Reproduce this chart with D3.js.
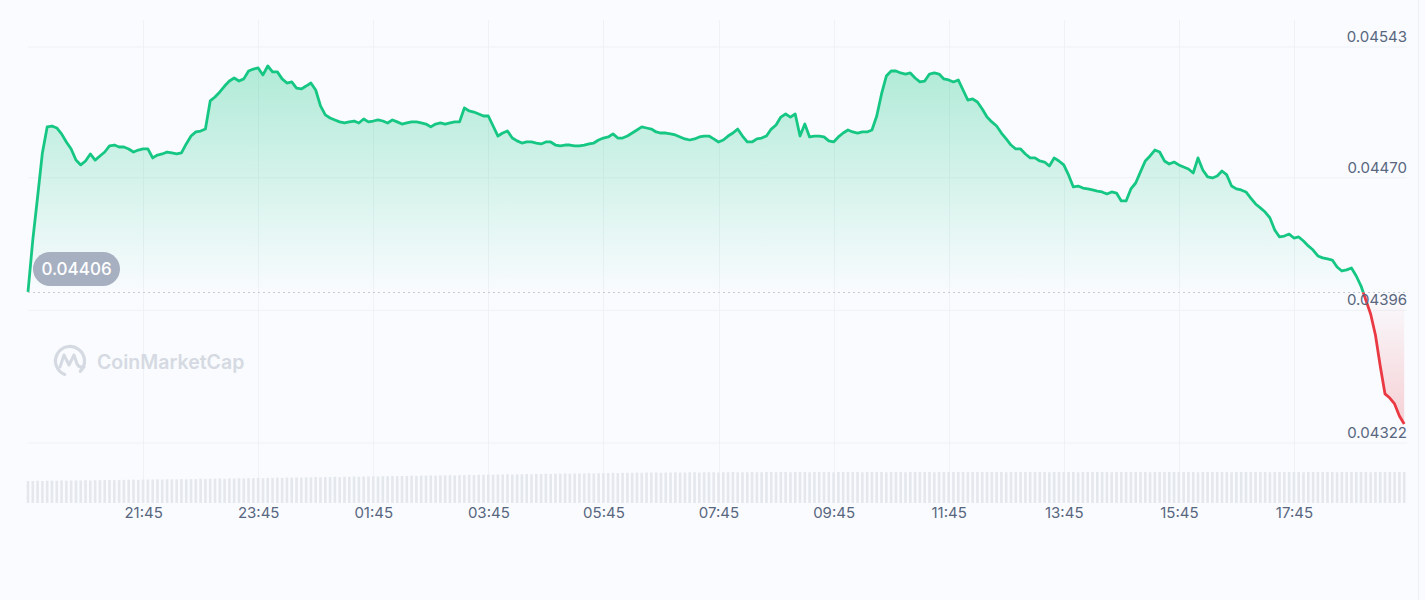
<!DOCTYPE html>
<html><head><meta charset="utf-8">
<script src="https://cdn.jsdelivr.net/npm/d3@7"></script>
<style>
html,body{margin:0;padding:0;background:#f9fbfe;}
svg{display:block;font-family:Inter,"Noto Sans",sans-serif;}
</style></head><body>
<svg id="chart" width="1425" height="600"></svg>
<script>
// ---------------- data ----------------
const startTime = "2024-01-01T19:45:00";
const intervalMinutes = 5;
const openPrice = 0.04406;
const prices = [
0.044063,0.044353,0.044593,0.044839,0.044984,0.044989,0.044978,0.044945,0.044900,0.044861,
0.044799,0.044772,0.044794,0.044833,0.044799,0.044822,0.044844,0.044878,0.044883,0.044872,
0.044872,0.044861,0.044844,0.044855,0.044861,0.044861,0.044811,0.044827,0.044833,0.044844,
0.044839,0.044833,0.044839,0.044889,0.044933,0.044956,0.044961,0.044972,0.045129,0.045151,
0.045179,0.045212,0.045240,0.045257,0.045240,0.045252,0.045296,0.045307,0.045313,0.045274,
0.045324,0.045291,0.045291,0.045252,0.045229,0.045235,0.045201,0.045196,0.045212,0.045229,
0.045190,0.045101,0.045051,0.045034,0.045023,0.045012,0.045006,0.045012,0.045017,0.045006,
0.045028,0.045012,0.045017,0.045023,0.045017,0.045006,0.045023,0.045012,0.045000,0.045006,
0.045012,0.045012,0.045006,0.045000,0.044984,0.045000,0.045006,0.045000,0.045006,0.045012,
0.045012,0.045090,0.045073,0.045067,0.045056,0.045045,0.045045,0.044989,0.044933,0.044950,
0.044961,0.044922,0.044906,0.044894,0.044900,0.044900,0.044894,0.044889,0.044900,0.044900,
0.044883,0.044878,0.044883,0.044883,0.044878,0.044878,0.044883,0.044889,0.044894,0.044911,
0.044922,0.044928,0.044945,0.044922,0.044922,0.044933,0.044950,0.044967,0.044984,0.044978,
0.044972,0.044956,0.044950,0.044950,0.044945,0.044939,0.044928,0.044917,0.044911,0.044917,
0.044928,0.044933,0.044933,0.044917,0.044900,0.044911,0.044933,0.044950,0.044972,0.044933,
0.044900,0.044900,0.044917,0.044922,0.044933,0.044972,0.044995,0.045039,0.045056,0.045039,
0.045056,0.044933,0.045000,0.044928,0.044933,0.044933,0.044928,0.044906,0.044900,0.044928,
0.044950,0.044967,0.044956,0.044950,0.044956,0.044956,0.044967,0.045045,0.045168,0.045268,
0.045296,0.045296,0.045285,0.045279,0.045285,0.045257,0.045235,0.045240,0.045279,0.045285,
0.045279,0.045252,0.045246,0.045235,0.045246,0.045190,0.045134,0.045140,0.045123,0.045084,
0.045039,0.045012,0.044989,0.044950,0.044917,0.044883,0.044861,0.044861,0.044833,0.044811,
0.044811,0.044794,0.044788,0.044766,0.044811,0.044794,0.044772,0.044716,0.044649,0.044654,
0.044643,0.044638,0.044632,0.044626,0.044621,0.044610,0.044621,0.044615,0.044571,0.044571,
0.044638,0.044671,0.044733,0.044794,0.044822,0.044855,0.044844,0.044794,0.044777,0.044788,
0.044772,0.044760,0.044749,0.044727,0.044811,0.044744,0.044705,0.044699,0.044710,0.044738,
0.044716,0.044654,0.044638,0.044632,0.044621,0.044587,0.044554,0.044532,0.044509,0.044476,
0.044409,0.044370,0.044375,0.044386,0.044364,0.044370,0.044347,0.044320,0.044297,0.044264,
0.044253,0.044247,0.044241,0.044202,0.044180,0.044186,0.044197,0.044152,0.044096,0.044018,
0.043940,0.043823,0.043650,0.043494,0.043471,0.043438,0.043371,0.043326
];
// 24h rolling volume (millions)
const volumes = [
7.8,7.8,7.9,7.8,7.9,7.9,7.9,8.0,7.9,8.0,8.0,8.0,8.1,8.0,8.1,8.1,8.1,8.2,8.1,8.2,8.2,8.2,8.3,8.2,8.3,8.3,8.3,8.4,8.3,8.4,
8.4,8.4,8.5,8.4,8.5,8.5,8.6,8.5,8.6,8.6,8.7,8.6,8.7,8.7,8.8,8.7,8.8,8.8,8.9,8.8,8.9,8.9,9.0,8.9,9.0,9.0,9.1,9.0,9.1,9.1,
9.2,9.1,9.2,9.2,9.3,9.2,9.3,9.3,9.4,9.3,9.4,9.4,9.5,9.4,9.5,9.5,9.6,9.5,9.6,9.6,9.7,9.6,9.7,9.7,9.8,9.7,9.8,9.8,9.9,9.8,
9.9,9.9,10.0,9.9,10.0,10.0,10.1,10.0,10.1,10.1,10.2,10.1,10.2,10.2,10.3,10.2,10.3,10.3,10.4,10.3,10.4,10.4,10.5,10.4,10.5,10.5,10.5,10.6,10.5,10.6,
10.6,10.6,10.7,10.6,10.7,10.7,10.7,10.8,10.7,10.8,10.8,10.8,10.7,10.8,10.8,10.9,10.8,10.8,10.9,10.9,10.8,10.9,10.9,10.9,10.8,10.9,10.9,11.0,10.9,10.9,
10.9,11.0,10.9,10.9,11.0,11.0,10.9,11.0,11.0,10.9,11.0,11.0,11.0,10.9,11.0,11.0,11.0,11.0,10.9,11.0,11.0,11.0,11.0,11.0,10.9,11.0,11.0,11.0,11.0,10.9,
11.0,11.0,11.0,10.9,11.0,11.0,11.0,11.0,11.0,10.9,11.0,11.0,11.0,11.0,11.0,11.0,10.9,11.0,11.0,11.0,11.0,11.0,11.0,11.0,10.9,11.0,11.0,11.0,11.0,11.0,
11.0,11.0,11.0,10.9,11.0,11.0,11.0,11.0,11.0,10.9,11.0,11.0,11.0,11.0,11.0,11.0,10.9,11.0,11.0,11.0,11.0,11.0,11.0,11.0,10.9,11.0,11.0,11.0,11.0,11.0,
11.0,11.0,11.0,11.0,10.9,11.0,11.0,11.0,11.0,11.0,11.0,10.9,11.0,11.0,11.0,11.0,11.0,11.0,11.0,10.9,11.0,11.0,11.0,11.0,11.0,11.0,10.9,11.0,11.0,11.0,
11.0,11.0,11.0,10.9,11.0,11.0,11.0,11.0,11.0,11.0,10.9,11.0,11.0,11.0,11.0,11.0,11.0,11.0
];
const priceTicks = [0.04322, 0.04396, 0.04470, 0.04543];
const timeTickLabels = ["21:45","23:45","01:45","03:45","05:45","07:45","09:45","11:45","13:45","15:45","17:45"];
const watermarkText = "CoinMarketCap";

// ---------------- build ----------------
const t0 = new Date(startTime);
const data = prices.map((p, i) => ({t: d3.timeMinute.offset(t0, i * intervalMinutes), p, v: volumes[i]}));
const tickDates = timeTickLabels.map(s => {
  const [h, m] = s.split(":").map(Number);
  let d = new Date(t0); d.setHours(h, m, 0, 0);
  if (d < t0) d = d3.timeDay.offset(d, 1);
  return d;
});

const W = 1425, H = 600;
const left = 28, right = 1407;
const x = d3.scaleTime().domain([t0, d3.timeHour.offset(t0, 24)]).range([left, 1409]);
const y = d3.scaleLinear().domain([0.04322, 0.04543]).range([443, 47]);
const vy = d3.scaleLinear().domain([0, 11]).range([503, 472]);

const svg = d3.select("#chart");
const defs = svg.append("defs");
const base = y(openPrice);

svg.append("rect").attr("width", W).attr("height", H).attr("fill", "#f9fbfe");
svg.append("line").attr("x1", 1418.5).attr("x2", 1418.5).attr("y1", 0).attr("y2", H)
  .attr("stroke", "#eceff3").attr("stroke-width", 1);

// gradients
const gG = defs.append("linearGradient").attr("id", "gGreen").attr("gradientUnits", "userSpaceOnUse")
  .attr("x1", 0).attr("x2", 0).attr("y1", y(d3.max(prices))).attr("y2", base);
gG.append("stop").attr("offset", 0).attr("stop-color", "#16c784").attr("stop-opacity", 0.32);
gG.append("stop").attr("offset", 1).attr("stop-color", "#16c784").attr("stop-opacity", 0.0);
const gR = defs.append("linearGradient").attr("id", "gRed").attr("gradientUnits", "userSpaceOnUse")
  .attr("x1", 0).attr("x2", 0).attr("y1", base).attr("y2", y(d3.min(prices)));
gR.append("stop").attr("offset", 0).attr("stop-color", "#ea3943").attr("stop-opacity", 0.0);
gR.append("stop").attr("offset", 1).attr("stop-color", "#ea3943").attr("stop-opacity", 0.22);

defs.append("clipPath").attr("id", "clipUp").append("rect")
  .attr("x", 0).attr("y", 0).attr("width", W).attr("height", base);
defs.append("clipPath").attr("id", "clipDown").append("rect")
  .attr("x", 0).attr("y", base).attr("width", W).attr("height", H - base);

// grid
const grid = svg.append("g");
grid.selectAll(".hg").data(priceTicks).join("line")
  .attr("x1", left).attr("x2", right).attr("y1", d => y(d)).attr("y2", d => y(d))
  .attr("stroke", "#eef1f5").attr("stroke-width", 1);
grid.selectAll(".vg").data(tickDates).join("line")
  .attr("x1", d => Math.round(x(d)) + 0.5).attr("x2", d => Math.round(x(d)) + 0.5)
  .attr("y1", 20).attr("y2", 503)
  .attr("stroke", "#eef1f5").attr("stroke-width", 1);

// volume bars
svg.append("g").selectAll("rect").data(data).join("rect")
  .attr("x", d => x(d.t) - 1.3).attr("width", 2.6)
  .attr("y", d => vy(d.v)).attr("height", d => vy(0) - vy(d.v))
  .attr("fill", "#e4e7ec");

// watermark
const wm = svg.append("g").attr("fill", "none").attr("stroke", "#d5dae2");
const ring = d3.path(); ring.arc(0, 0, 14.5, Math.PI * 0.62, Math.PI * 2.25);
wm.append("path").attr("transform", "translate(70,361)").attr("stroke-width", 3.2)
  .attr("stroke-linecap", "round").attr("d", ring.toString());
wm.append("path").attr("stroke-width", 3).attr("stroke-linejoin", "round").attr("stroke-linecap", "round")
  .attr("d", "M60,367 L64,355 L69,365 L74,355 L77,364 Q79,368 84,367");
svg.append("text").attr("x", 97).attr("y", 362).attr("dominant-baseline", "central")
  .attr("font-size", 19.5).attr("font-weight", 600).attr("fill", "#d5dae2").text(watermarkText);

// areas
const area = d3.area().x(d => x(d.t)).y0(base).y1(d => y(d.p));
svg.append("path").datum(data).attr("d", area).attr("fill", "url(#gGreen)").attr("clip-path", "url(#clipUp)");
svg.append("path").datum(data).attr("d", area).attr("fill", "url(#gRed)").attr("clip-path", "url(#clipDown)");

// baseline
svg.append("line").attr("x1", left).attr("x2", right).attr("y1", base).attr("y2", base)
  .attr("stroke", "#c5cbd4").attr("stroke-width", 1).attr("stroke-dasharray", "2,3");

// lines
const line = d3.line().x(d => x(d.t)).y(d => y(d.p));
svg.append("path").datum(data).attr("d", line).attr("fill", "none").attr("stroke", "#16c784")
  .attr("stroke-width", 2.8).attr("stroke-linejoin", "round").attr("clip-path", "url(#clipUp)");
svg.append("path").datum(data).attr("d", line).attr("fill", "none").attr("stroke", "#ea3943")
  .attr("stroke-width", 2.8).attr("stroke-linejoin", "round").attr("clip-path", "url(#clipDown)");

// y axis labels
const yAxis = svg.append("g").attr("transform", `translate(${right},0)`)
  .call(d3.axisLeft(y).tickValues(priceTicks).tickFormat(d3.format(".5f")).tickSize(0).tickPadding(0));
yAxis.select(".domain").remove();
yAxis.selectAll("text").attr("dy", "-0.38em").attr("font-size", 15).attr("fill", "#58667e")
  .attr("font-family", "Inter, 'Noto Sans', sans-serif");

// x axis labels
const xAxis = svg.append("g").attr("transform", "translate(0,503)")
  .call(d3.axisBottom(x).tickValues(tickDates).tickFormat(d3.timeFormat("%H:%M")).tickSize(0).tickPadding(4));
xAxis.select(".domain").remove();
xAxis.selectAll("text").attr("font-size", 15).attr("fill", "#58667e")
  .attr("font-family", "Inter, 'Noto Sans', sans-serif");

// open price pill
const pill = svg.append("g");
pill.append("rect").attr("x", 33).attr("y", base - 40.5).attr("width", 87).attr("height", 34)
  .attr("rx", 17).attr("fill", "#a7b0c1");
pill.append("text").attr("x", 76.5).attr("y", base - 23.5).attr("text-anchor", "middle")
  .attr("dominant-baseline", "central").attr("font-size", 17).attr("font-weight", 500)
  .attr("fill", "#ffffff").text(d3.format(".5f")(openPrice));
</script>
</body></html>
